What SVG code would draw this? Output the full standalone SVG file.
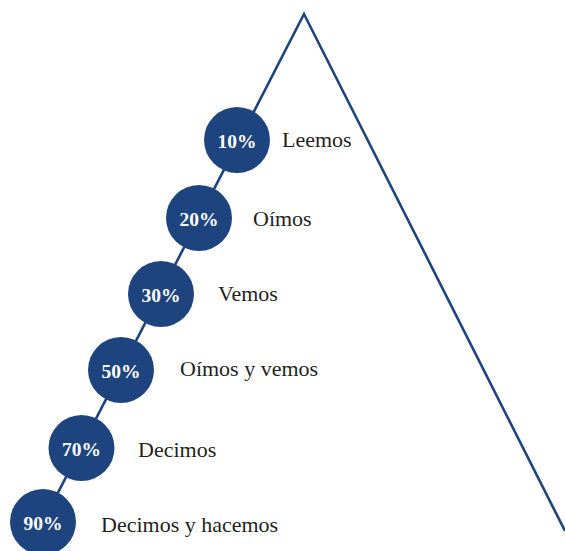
<svg xmlns="http://www.w3.org/2000/svg" width="565" height="551" viewBox="0 0 565 551">
<style>
.edge{fill:none;stroke:#1e4480;stroke-width:2.6;stroke-linejoin:miter}
.dot{fill:#1e4480}
.pct{font-family:"Liberation Serif",serif;font-size:19.5px;fill:#fff;text-anchor:middle;font-weight:bold}
.lbl{font-family:"Liberation Serif",serif;font-size:22px;fill:#231f20}
</style>
<rect width="565" height="551" fill="#fff"/>
<g id="connectors">
<polyline class="edge" points="28,551 304,14 565,531"/>
</g>
<g id="n10"><circle class="dot" cx="237" cy="140" r="33"/><text class="pct" x="237" y="148">10%</text><text class="lbl" x="282" y="147">Leemos</text></g>
<g id="n20"><circle class="dot" cx="199" cy="218" r="33"/><text class="pct" x="199" y="226">20%</text><text class="lbl" x="253" y="226">Oímos</text></g>
<g id="n30"><circle class="dot" cx="161" cy="294" r="33"/><text class="pct" x="161" y="302">30%</text><text class="lbl" x="218" y="301">Vemos</text></g>
<g id="n50"><circle class="dot" cx="121" cy="370" r="33"/><text class="pct" x="121" y="378">50%</text><text class="lbl" x="180" y="376">Oímos y vemos</text></g>
<g id="n70"><circle class="dot" cx="81.5" cy="448" r="33"/><text class="pct" x="81.5" y="456">70%</text><text class="lbl" x="138" y="457">Decimos</text></g>
<g id="n90"><circle class="dot" cx="43" cy="522" r="33"/><text class="pct" x="43" y="530">90%</text><text class="lbl" x="101" y="532">Decimos y hacemos</text></g>
</svg>
